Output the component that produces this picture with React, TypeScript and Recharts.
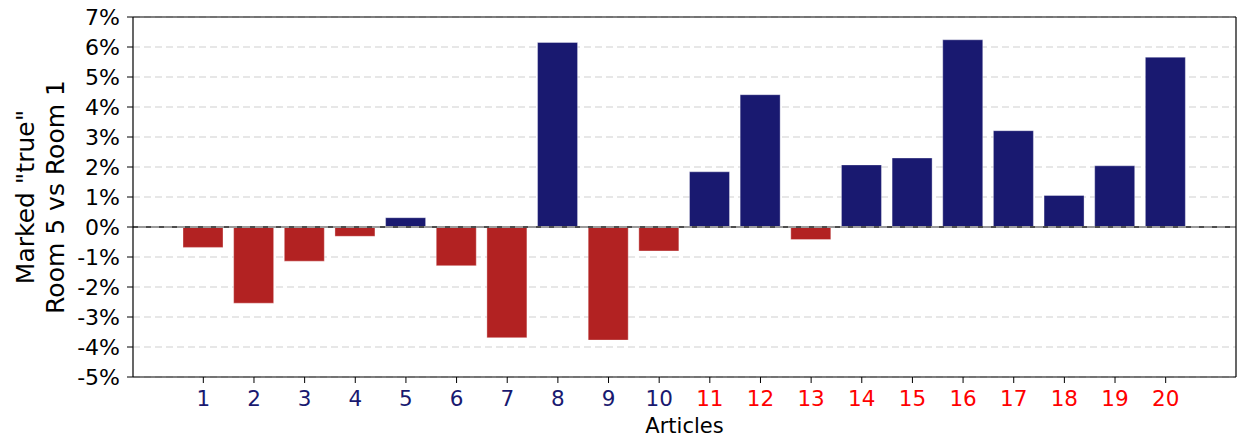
import { Bar, BarChart, CartesianGrid, Cell, ReferenceLine, XAxis, YAxis } from "recharts";

const articles = ["1", "2", "3", "4", "5", "6", "7", "8", "9", "10", "11", "12", "13", "14", "15", "16", "17", "18", "19", "20"];
const diffs = [-0.68, -2.54, -1.14, -0.31, 0.31, -1.29, -3.69, 6.15, -3.77, -0.8, 1.84, 4.41, -0.42, 2.07, 2.3, 6.24, 3.21, 1.05, 2.04, 5.66];
const yTicks = [-5, -4, -3, -2, -1, 0, 1, 2, 3, 4, 5, 6, 7];

const data = articles.map((article, i) => ({ article, diff: diffs[i] }));

const FONT = "'DejaVu Sans', sans-serif";
const POS = "#191970";
const NEG = "#b22222";

function ArticleTick(props: any) {
  const { x, y, payload, index } = props;
  const color = index < 10 ? POS : "#ff0000";
  return (
    <text x={x} y={y + 21} textAnchor="middle" fill={color} fontSize={21.5} fontFamily={FONT}>
      {payload.value}
    </text>
  );
}

function YTitle() {
  return (
    <g fontFamily={FONT} fontSize={25} fill="#000">
      <text transform="translate(34, 197) rotate(-90)" textAnchor="middle">Marked "true"</text>
      <text transform="translate(64, 197) rotate(-90)" textAnchor="middle">Room 5 vs Room 1</text>
    </g>
  );
}

export default function App() {
  return (
    <div style={{ position: "absolute", left: 0, top: 0, background: "#fff" }}>
      <BarChart width={1238} height={437} data={data} margin={{ top: 17, right: 1, left: 0, bottom: 0 }}>
        <CartesianGrid vertical={false} stroke="#e0e0e0" strokeWidth={1.6} strokeDasharray="7 4" />
        <XAxis
          dataKey="article"
          height={60}
          padding={{ left: 45, right: 45 }}
          tick={ArticleTick}
          tickSize={6}
          axisLine={{ stroke: "#000", strokeWidth: 1.2 }}
          tickLine={{ stroke: "#000" }}
          interval={0}
          label={{ value: "Articles", position: "insideBottom", offset: 4, fontSize: 21, fontFamily: FONT, fill: "#000" }}
        />
        <YAxis
          width={133}
          domain={[-5, 7]}
          ticks={yTicks}
          interval={0}
          tickFormatter={(v) => `${v}%`}
          tickSize={6}
          tickMargin={7}
          tick={{ fontSize: 22, fontFamily: FONT, fill: "#000" }}
          axisLine={{ stroke: "#000", strokeWidth: 1.2 }}
          tickLine={{ stroke: "#000" }}
          allowDataOverflow
          label={{ content: () => <YTitle /> }}
        />
        <YAxis
          yAxisId="right"
          orientation="right"
          width={1}
          domain={[-5, 7]}
          ticks={yTicks}
          tick={false}
          tickLine={false}
          axisLine={{ stroke: "#000", strokeWidth: 1.2 }}
        />
        <Bar dataKey="diff" barSize={40} isAnimationActive={false} stroke="#ffffff" strokeOpacity={0.35} strokeWidth={1}>
          {data.map((d, i) => (
            <Cell key={i} fill={d.diff >= 0 ? POS : NEG} />
          ))}
        </Bar>
        <ReferenceLine y={0} stroke="#9a9a9a" strokeWidth={2.2} />
        <ReferenceLine y={0} stroke="#4d4d4d" strokeWidth={2.2} strokeDasharray="5 8" />
        <ReferenceLine y={7} stroke="#000" strokeWidth={1.2} />
      </BarChart>
    </div>
  );
}
